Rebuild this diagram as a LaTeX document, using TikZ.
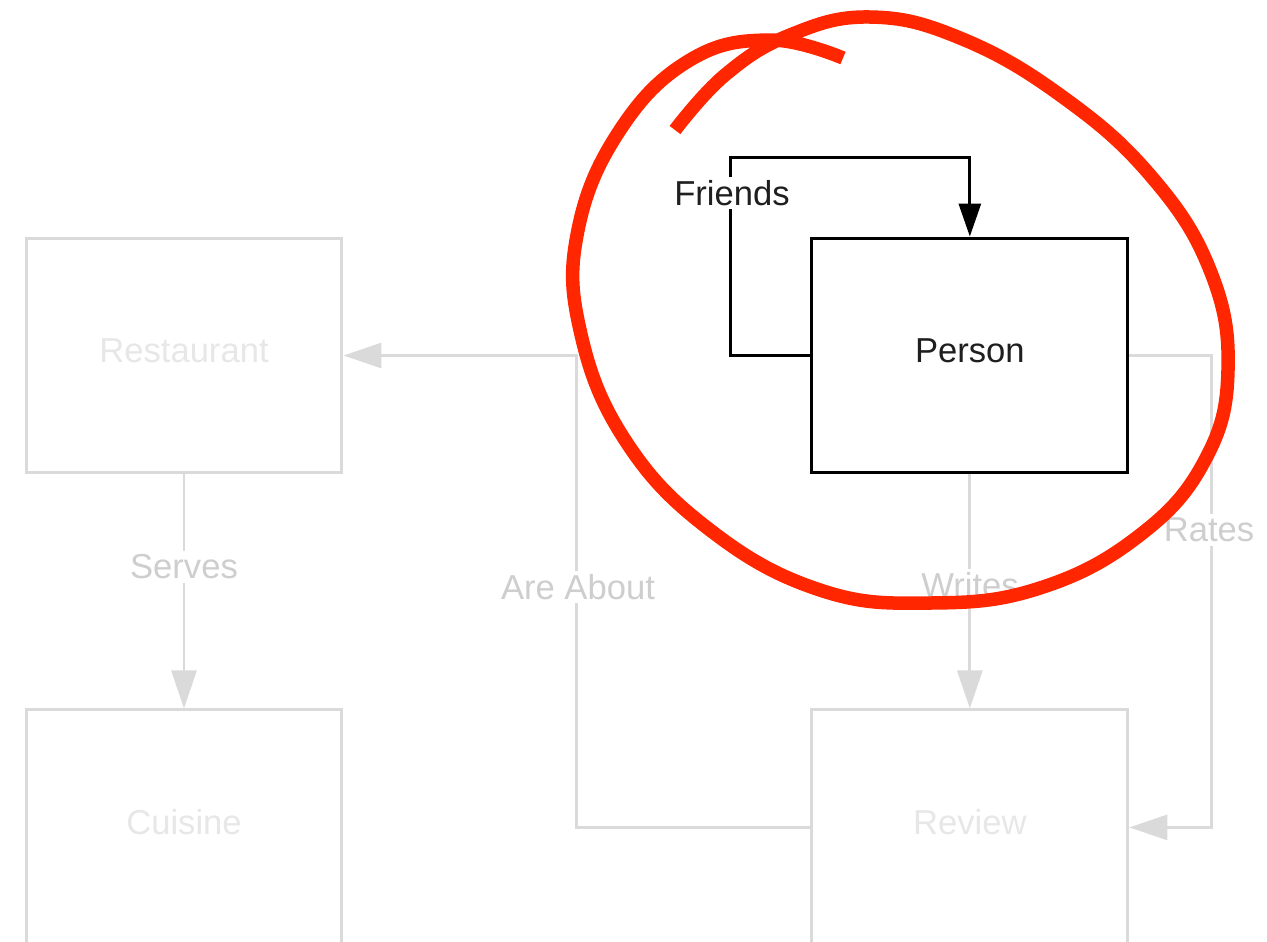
\documentclass[tikz,border=0pt]{standalone}
\usepackage{fontspec}
\setmainfont{Liberation Sans}
\usetikzlibrary{positioning,arrows.meta}
\definecolor{faded}{RGB}{218,218,218}
\definecolor{fadedtext}{RGB}{231,231,231}
\definecolor{tagtext}{RGB}{206,206,206}
\definecolor{penred}{RGB}{255,38,0}

\begin{document}
\begin{tikzpicture}[x=0.02cm,y=-0.02cm,
    entity/.style={draw,minimum width=6.32cm,minimum height=4.7cm,inner sep=0pt,
        text depth=0.2cm,line width=1.7pt,text=black!88,font=\fontsize{19.7}{22}\selectfont},
    ghost/.style={entity,draw=faded,text=fadedtext},
    link/.style={line width=1.7pt,draw=faded,
        -{Triangle[length=0.76cm,width=0.5cm,fill=faded]}},
    tag/.style={fill=white,text=tagtext,inner sep=2pt,font=\fontsize{19.7}{22}\selectfont}]
    \useasboundingbox (0,0) rectangle (1267,941);
    \clip (0,0) rectangle (1267,941);
    % the four tables
    \node[ghost] (restaurant) at (184,355.5) {Restaurant};
    \node[ghost, below=4.68cm of restaurant] (cuisine) {Cuisine};
    \node[entity, right=9.34cm of restaurant] (person) {Person};
    \node[ghost, below=4.68cm of person] (review) {Review};
    % faded relations
    \draw[link] (restaurant) -- (cuisine);
    \draw[link] (person) -- (review);
    \draw[link] (person.east) -- ++(82,0) |- (review.east);
    \draw[link] (review.west) -- ++(-234,0) |- (restaurant.east);
    \node[tag] (serves) at (184,567) {Serves};
    \node[tag] (writes) at (970,585) {Writes};
    \node[tag] (rates) at (1209,530) {Rates};
    \node[tag] (about) at (578,587) {Are About};
    % self relation
    \draw[line width=1.7pt,-{Triangle[length=0.66cm,width=0.44cm]}]
        (person.west) -- ++(-80,0) -- ++(0,-198) -| (person.north);
    \node[fill=white,inner sep=2pt,text=black!88,font=\fontsize{19.7}{22}\selectfont]
        (friends) at (732,193) {Friends};
    % pen mark
    \draw[penred,line width=0.27cm] plot[smooth,tension=0.7] coordinates {
        (843,58) (770,40) (690,60) (620,130) (578,230) (580,330) (625,440)
        (710,530) (820,590) (930,603) (1040,588) (1140,535) (1205,460)
        (1228,370) (1210,270) (1150,175) (1060,95) (960,38) (870,17)
        (790,35) (725,75) (675,130)};
\end{tikzpicture}
\end{document}
